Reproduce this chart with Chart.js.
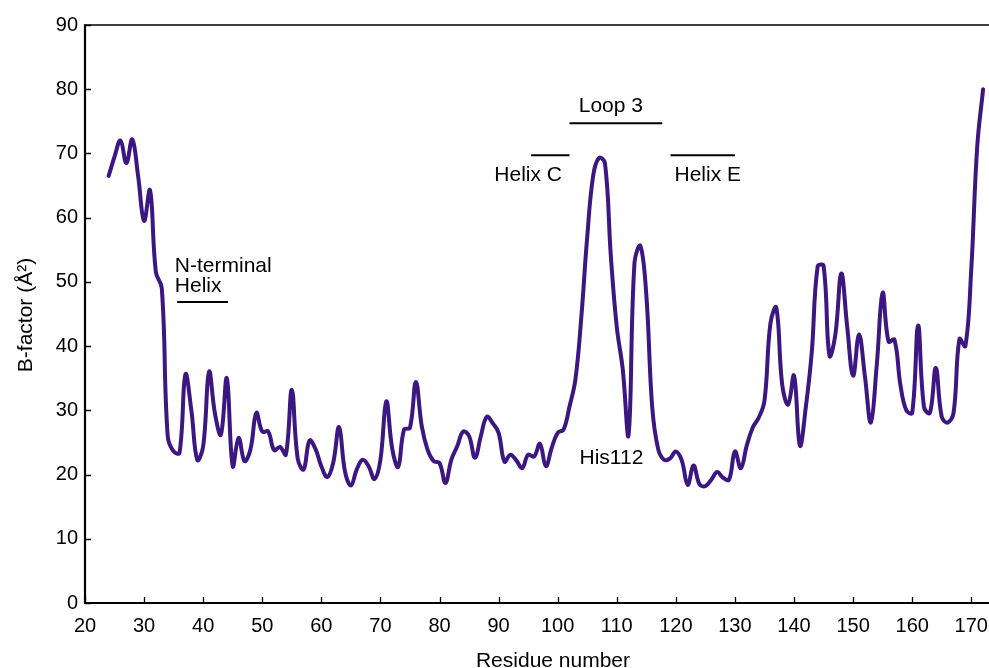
<!DOCTYPE html>
<html>
<head>
<meta charset="utf-8">
<script src="https://cdn.jsdelivr.net/npm/chart.js@4"></script>
<style>
  html, body { margin: 0; padding: 0; background: #ffffff; overflow: hidden; }
  canvas { display: block; }
</style>
</head>
<body>
<canvas id="c" width="989" height="668"></canvas>
<script>
// Residue numbers (x) and B-factor values (y)
const residues = [
  24, 25, 26, 27, 28, 29, 30, 31, 32, 33, 34, 35, 36, 37, 38, 39, 40, 41, 42, 43,
  44, 45, 46, 47, 48, 49, 50, 51, 52, 53, 54, 55, 56, 57, 58, 59, 60, 61, 62, 63,
  64, 65, 66, 67, 68, 69, 70, 71, 72, 73, 74, 75, 76, 77, 78, 79, 80, 81, 82, 83,
  84, 85, 86, 87, 88, 89, 90, 91, 92, 93, 94, 95, 96, 97, 98, 99, 100, 101, 102, 103,
  104, 105, 106, 107, 108, 109, 110, 111, 112, 113, 114, 115, 116, 117, 118, 119, 120, 121, 122, 123,
  124, 125, 126, 127, 128, 129, 130, 131, 132, 133, 134, 135, 136, 137, 138, 139, 140, 141, 142, 143,
  144, 145, 146, 147, 148, 149, 150, 151, 152, 153, 154, 155, 156, 157, 158, 159, 160, 161, 162, 163,
  164, 165, 166, 167, 168, 169, 170, 171, 172
];
const bFactor = [
  66.5, 69.5, 72.0, 68.5, 72.2, 66.4, 59.5, 64.3, 51.5, 49.0, 26.0, 23.6, 23.4, 35.6, 30.0, 22.3, 24.4, 36.0, 29.5, 26.2,
  35.0, 21.3, 25.7, 22.1, 23.9, 29.6, 26.7, 26.7, 23.8, 24.3, 23.1, 33.2, 22.5, 20.8, 25.3, 24.0, 21.3, 19.6, 21.8, 27.4,
  20.5, 18.3, 20.8, 22.3, 21.3, 19.3, 22.3, 31.4, 24.0, 21.2, 27.0, 27.3, 34.4, 27.5, 23.8, 22.1, 21.8, 18.7, 22.3, 24.4,
  26.7, 26.0, 22.6, 26.0, 29.0, 28.0, 26.5, 22.0, 23.1, 22.2, 21.0, 23.1, 22.8, 24.8, 21.3, 24.2, 26.5, 27.0, 30.6, 34.8,
  44.5, 57.0, 66.5, 69.3, 68.5, 54.0, 43.0, 36.5, 26.2, 53.0, 55.6, 48.0, 30.5, 24.0, 22.3, 22.5, 23.6, 22.2, 18.4, 21.4,
  18.5, 18.2, 19.2, 20.4, 19.5, 19.2, 23.6, 21.0, 24.5, 27.3, 28.8, 31.5, 43.5, 46.0, 34.0, 30.9, 35.4, 24.5, 30.5, 39.0,
  52.4, 52.5, 38.5, 41.8, 51.3, 43.0, 35.4, 41.8, 35.3, 28.1, 37.0, 48.3, 40.7, 41.0, 34.0, 30.0, 29.6, 43.2, 30.5, 29.6,
  36.6, 29.0, 28.1, 29.6, 41.1, 40.0, 52.0, 71.0, 80.0
];
// Axis tick values
const xTicks = [20, 30, 40, 50, 60, 70, 80, 90, 100, 110, 120, 130, 140, 150, 160, 170];
const yTicks = [0, 10, 20, 30, 40, 50, 60, 70, 80, 90];
// Text annotations (position in data units: residue, B-factor)
const labelTexts = ['N-terminal', 'Helix', 'Helix C', 'Loop 3', 'Helix E', 'His112'];
const labelX     = [35.2, 35.2, 95.0, 109.0, 125.4, 109.1];
const labelY     = [51.5, 48.4, 65.7, 76.5, 65.7, 21.6];
const labelAlign = ['left', 'left', 'center', 'center', 'center', 'center'];
// Secondary-structure bars: [startResidue, endResidue, B-factor level]
const barStart = [35.6, 95.5, 102.0, 119.1];
const barEnd   = [44.2, 102.0, 117.7, 130.0];
const barLevel = [46.85, 69.7, 74.7, 69.7];

const FONT = '"Liberation Sans", Arial, Helvetica, sans-serif';
const LINE_COLOR = '#3c1782';

const decorPlugin = {
  id: 'decor',
  afterDraw(chart) {
    const ctx = chart.ctx;
    const xs = chart.scales.x, ys = chart.scales.y;
    const a = chart.chartArea;
    ctx.save();
    ctx.strokeStyle = '#000';
    // top frame line
    ctx.lineWidth = 1.5;
    ctx.beginPath();
    ctx.moveTo(a.left, a.top);
    ctx.lineTo(a.right + 5, a.top);
    ctx.stroke();
    // left and bottom axes
    ctx.lineWidth = 2.2;
    ctx.beginPath();
    ctx.moveTo(a.left, a.top - 0.75);
    ctx.lineTo(a.left, a.bottom);
    ctx.lineTo(a.right + 5, a.bottom);
    ctx.stroke();
    // inward tick marks
    ctx.lineWidth = 1.3;
    ctx.beginPath();
    yTicks.forEach(v => {
      const y = Math.round(ys.getPixelForValue(v)) + 0.5;
      ctx.moveTo(a.left, y);
      ctx.lineTo(a.left + 6, y);
    });
    xTicks.forEach(v => {
      const x = Math.round(xs.getPixelForValue(v)) + 0.5;
      ctx.moveTo(x, a.bottom);
      ctx.lineTo(x, a.bottom - 6);
    });
    ctx.stroke();
    // structure bars
    ctx.lineWidth = 2;
    ctx.beginPath();
    barStart.forEach((s, i) => {
      const y = ys.getPixelForValue(barLevel[i]);
      ctx.moveTo(xs.getPixelForValue(s), y);
      ctx.lineTo(xs.getPixelForValue(barEnd[i]), y);
    });
    ctx.stroke();
    // annotation texts
    ctx.fillStyle = '#000';
    ctx.font = '21px ' + FONT;
    ctx.textBaseline = 'alphabetic';
    labelTexts.forEach((t, i) => {
      ctx.textAlign = labelAlign[i];
      ctx.fillText(t, xs.getPixelForValue(labelX[i]), ys.getPixelForValue(labelY[i]));
    });
    // axis titles
    ctx.textAlign = 'center';
    ctx.textBaseline = 'middle';
    ctx.fillText('Residue number', 553, 661);
    ctx.save();
    ctx.translate(26, 315);
    ctx.rotate(-Math.PI / 2);
    ctx.fillText('B-factor (Å²)', 0, 0);
    ctx.restore();
    ctx.restore();
  }
};

new Chart(document.getElementById('c'), {
  type: 'line',
  data: {
    datasets: [{
      data: residues.map((r, i) => ({ x: r, y: bFactor[i] })),
      borderColor: LINE_COLOR,
      borderWidth: 4,
      pointRadius: 0,
      tension: 0.4,
      fill: false,
      borderCapStyle: 'round',
      borderJoinStyle: 'round'
    }]
  },
  options: {
    responsive: false,
    animation: false,
    events: [],
    layout: { padding: { top: 25, right: 0, left: 0, bottom: 0 } },
    plugins: { legend: { display: false }, tooltip: { enabled: false } },
    scales: {
      x: {
        type: 'linear',
        min: 20,
        max: 173,
        afterBuildTicks: s => { s.ticks = xTicks.map(v => ({ value: v })); },
        afterFit: s => { s.height = 65; s.paddingRight = 0; s.paddingLeft = 0; },
        grid: { display: false, drawTicks: false },
        border: { display: false },
        ticks: { color: '#000', font: { family: FONT, size: 20 }, padding: 11, maxRotation: 0, autoSkip: false }
      },
      y: {
        type: 'linear',
        min: 0,
        max: 90,
        afterBuildTicks: s => { s.ticks = yTicks.map(v => ({ value: v })); },
        afterFit: s => { s.width = 85; },
        grid: { display: false, drawTicks: false },
        border: { display: false },
        ticks: { color: '#000', font: { family: FONT, size: 20 }, padding: 7 }
      }
    }
  },
  plugins: [decorPlugin]
});
</script>
</body>
</html>
